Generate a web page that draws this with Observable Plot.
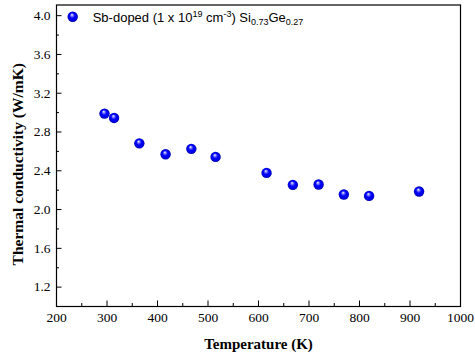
<!DOCTYPE html>
<html><head><meta charset="utf-8">
<script src="https://cdn.jsdelivr.net/npm/d3@7"></script>
<script src="https://cdn.jsdelivr.net/npm/@observablehq/plot@0.6"></script>
<style>body{margin:0;background:#fff}</style>
</head><body><div id="chart"></div>
<script>
const temperature = [295, 314, 364, 416, 467, 515, 616, 668, 719, 769, 819, 918];
const conductivity = [2.99, 2.945, 2.683, 2.57, 2.626, 2.543, 2.378, 2.255, 2.258, 2.155, 2.141, 2.186];
const xMajor = [200, 300, 400, 500, 600, 700, 800, 900, 1000];
const xMinor = [250, 350, 450, 550, 650, 750, 850, 950];
const yMajor = [1.2, 1.6, 2.0, 2.4, 2.8, 3.2, 3.6, 4.0];
const yMinor = [1.4, 1.8, 2.2, 2.6, 3.0, 3.4, 3.8];
const xTitle = "Temperature (K)";
const yTitle = "Thermal conductivity (W/mK)";

const data = temperature.map((t, i) => ({t, k: conductivity[i]}));

const W = 475, H = 358;
const mT = 4.5, mB = 52, mL = 56, mR = 15;
const innerW = W - mL - mR, innerH = H - mT - mB;

const chart = Plot.plot({
  width: W, height: H,
  marginTop: mT, marginBottom: mB, marginLeft: mL, marginRight: mR,
  style: {fontFamily: "'Liberation Serif', serif", background: "#fff", color: "#000", overflow: "visible"},
  x: {domain: [200, 1000]},
  y: {domain: [1.0, 4.11]},
  marks: [
    Plot.tickX(xMajor, {x: d => d, insetTop: innerH - 5.5, stroke: "#000", strokeWidth: 1}),
    Plot.tickX(xMinor, {x: d => d, insetTop: innerH - 3, stroke: "#000", strokeWidth: 1}),
    Plot.tickY(yMajor, {y: d => d, insetRight: innerW - 5.5, stroke: "#000", strokeWidth: 1}),
    Plot.tickY(yMinor, {y: d => d, insetRight: innerW - 3, stroke: "#000", strokeWidth: 1}),
    Plot.axisX({ticks: xMajor, tickSize: 0, tickPadding: 6, fontSize: 13.5, label: null, tickFormat: d3.format("d")}),
    Plot.axisY({ticks: yMajor, tickSize: 0, tickPadding: 6, fontSize: 13.5, label: null, tickFormat: d3.format(".1f")}),
    Plot.frame({stroke: "#000", strokeWidth: 1.2}),
    Plot.text([xTitle], {frameAnchor: "bottom", dy: 37.5, textAnchor: "middle", lineAnchor: "middle", fontSize: 15, fontWeight: "bold", fill: "#000"}),
    Plot.text([yTitle], {frameAnchor: "left", dx: -38.5, dy: 8.5, rotate: -90, textAnchor: "middle", lineAnchor: "middle", fontSize: 15.5, fontWeight: "bold", fill: "#000"}),
    Plot.dot(data, {x: "t", y: "k", r: 5.2, fill: "url(#ball)", stroke: "none"})
  ]
});

const svgNS = "http://www.w3.org/2000/svg";
const defs = document.createElementNS(svgNS, "defs");
defs.innerHTML = `<radialGradient id="ball" cx="0.5" cy="0.5" r="0.5" fx="0.42" fy="0.3">
  <stop offset="0" stop-color="#ffffff"/>
  <stop offset="0.22" stop-color="#8080ff"/>
  <stop offset="0.5" stop-color="#0000ff"/>
  <stop offset="0.85" stop-color="#0000e0"/>
  <stop offset="1" stop-color="#0000a0"/>
</radialGradient>`;
chart.insertBefore(defs, chart.firstChild);

// legend
const g = document.createElementNS(svgNS, "g");
g.innerHTML = `<circle cx="72.7" cy="16.7" r="5.2" fill="url(#ball)"/>
<text x="92.7" y="21.5" text-anchor="start" font-family="'Liberation Sans', Arial, sans-serif" font-size="13" fill="#000">Sb-doped (1 x 10<tspan font-size="9" dy="-5">19</tspan><tspan dy="5"> cm</tspan><tspan font-size="9" dy="-5">-3</tspan><tspan dy="5">) Si</tspan><tspan font-size="9" dy="3">0.73</tspan><tspan dy="-3">Ge</tspan><tspan font-size="9" dy="3">0.27</tspan></text>`;
chart.appendChild(g);

document.getElementById("chart").appendChild(chart);
</script>
</body></html>
